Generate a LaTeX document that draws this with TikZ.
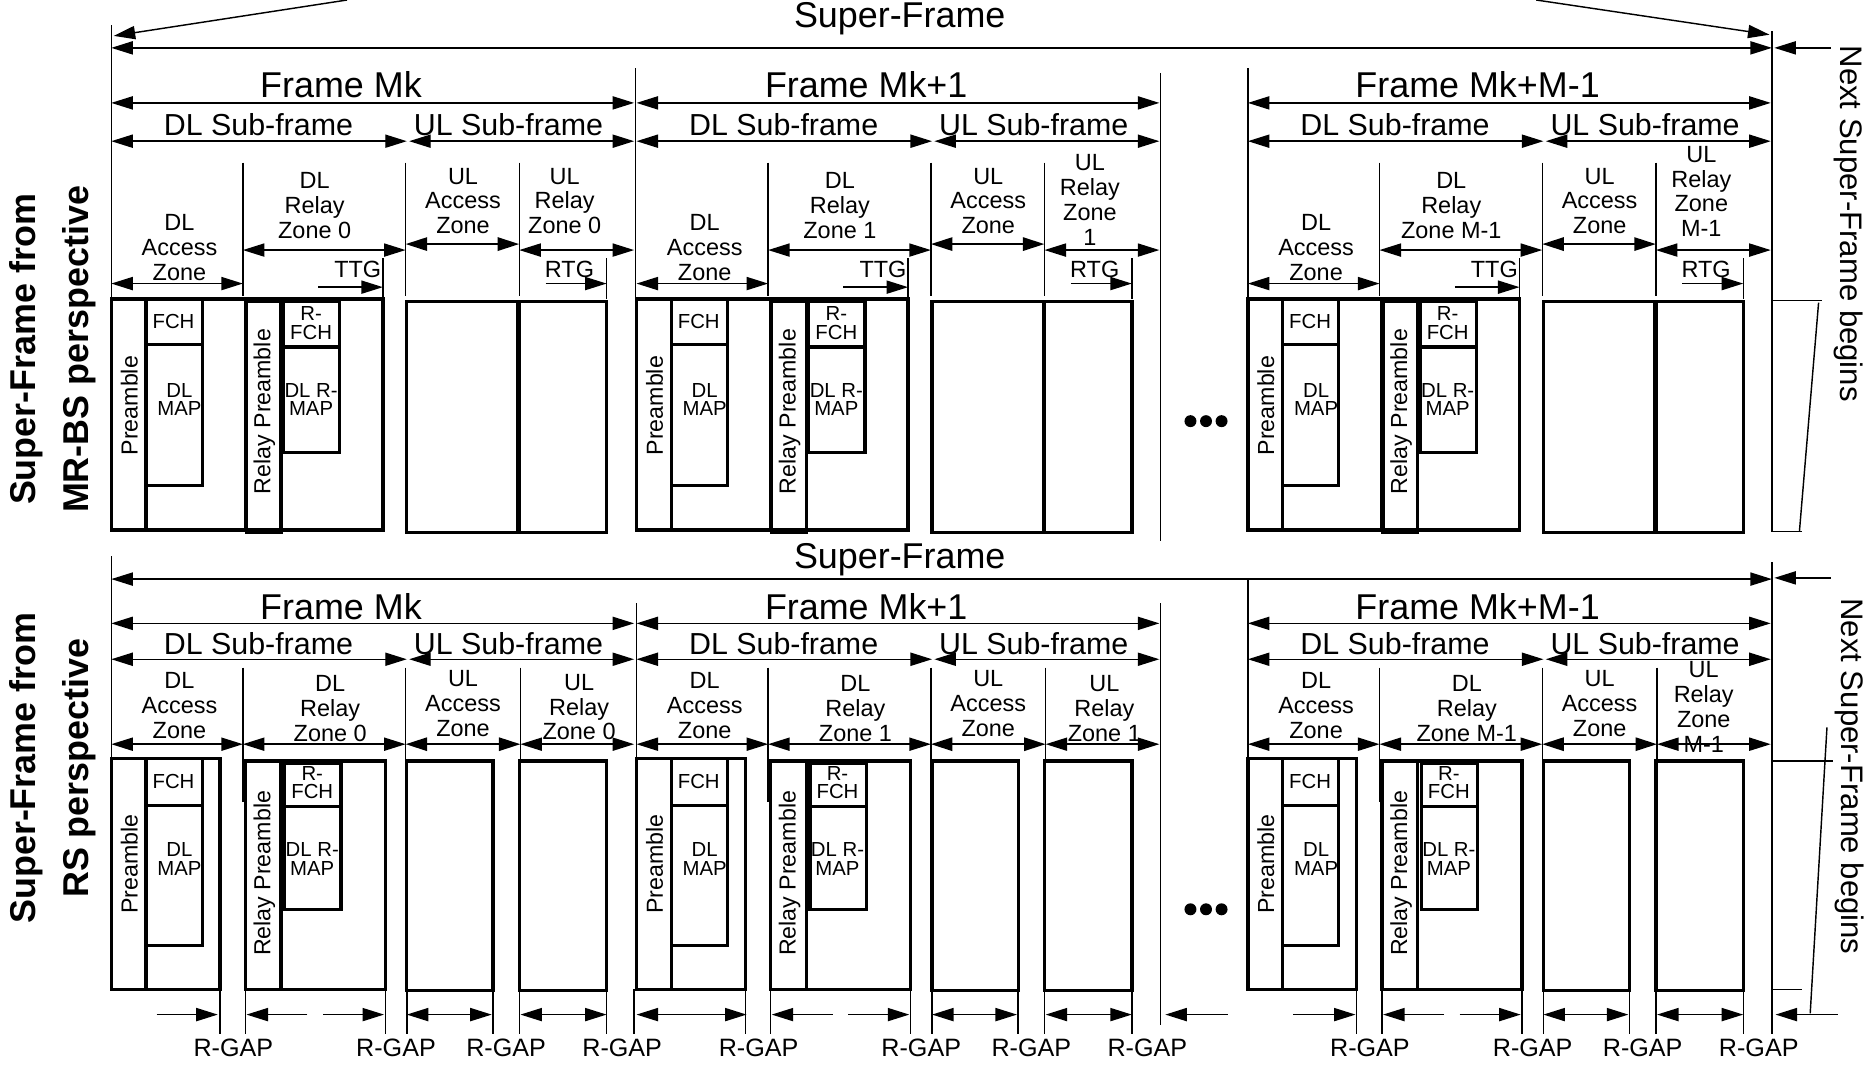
\documentclass[tikz,border=0pt]{standalone}
\usepackage{fontspec}
\setmainfont{Liberation Sans}
\usetikzlibrary{arrows.meta}

\begin{document}
\begin{tikzpicture}[x=.5pt,y=-.5pt,>={Triangle[length=9pt,width=5.5pt]},line width=.6pt,
  every node/.style={inner sep=0pt},
  blk/.style={line width=1.4pt},
  heavy/.style={line width=1pt},
  supf/.style={font=\fontsize{15}{17}\selectfont},
  subf/.style={font=\fontsize{12.7}{14}\selectfont},
  zone/.style={font=\fontsize{9.8}{10.4}\selectfont,align=center},
  gapl/.style={font=\fontsize{10.5}{12}\selectfont},
  cell/.style={font=\fontsize{8.5}{7.6}\selectfont,align=center},
  pre/.style={font=\fontsize{9.7}{11}\selectfont,rotate=90},
  sidelab/.style={font=\bfseries\fontsize{15}{22}\selectfont,rotate=90,align=center},
  nxt/.style={font=\fontsize{13}{15}\selectfont,rotate=-90}]
\useasboundingbox (0,0) rectangle (1568,891);

% super-frame, MR-BS view
\draw[->] (290,0)--(95,30);
\draw[->] (1284,0)--(1479,29);
\node[supf] (sfu) at (752,16) {Super-Frame};
\draw[<->] (93,40)--(1481,40);
\draw[->] (1530,40)--(1483,40);
\node[nxt] (nsu) at (1545,187) {Next Super-Frame begins};
\node[sidelab] (mrbs) at (44,292) {Super-Frame from\\MR-BS perspective};
\draw (93,21)--(93,250);
\draw (531,57)--(531,445);
\draw (970,61)--(970,452);
\draw (1043,57)--(1043,248);
\draw (1481,26)--(1481,445);
\draw (1481,251)--(1523,251);
\draw (1481,444)--(1506,444);
\draw (1520,253)--(1504,444);
\foreach \y in {352,760}
  \foreach \d in {995,1008,1021} \fill (\d,\y) circle (5);

\foreach \x/\nm/\z/\ul/\uly in {93/Mk/0/{UL\\Relay\\Zone 0}/168,532/Mk+1/1/{UL\\Relay\\Zone\\1}/167,1043/Mk+M-1/M-1/{UL\\Relay\\Zone\\M-1}/160}{
\begin{scope}[shift={(\x,0)}]
\draw[<->] (0,86)--(437,86);
\node[supf] (fu\x) at (192,71) {Frame \nm};
\draw[<->] (0,118)--(247,118);
\draw[<->] (249,118)--(437,118);
\node[subf] (dlu\x) at (123,104) {DL Sub-frame};
\node[subf] (ulu\x) at (332,104) {UL Sub-frame};
\draw (110,136)--(110,247);
\draw (246,136)--(246,247);
\draw (341,136)--(341,247);
\draw[<->] (0,237)--(110,237);
\draw[<->] (110,209)--(246,209);
\draw[<->,heavy] (246,204)--(341,204);
\draw[<->] (341,209)--(437,209);
\draw[->] (173,240)--(227,240);
\draw[->] (363,237)--(414,237);
\draw (227,216)--(227,250);
\draw (414,216)--(414,250);
\node[zone] (ttg\x) at (206,225) {TTG};
\node[zone] (rtg\x) at (383,225) {RTG};
\node[zone] (dau\x) at (57,207) {DL\\Access\\Zone};
\node[zone] (dru\x) at (170,172) {DL\\Relay\\Zone \z};
\node[zone] (uau\x) at (294,168) {UL\\Access\\Zone};
\node[zone] (uru\x) at (379,\uly) {\ul};
\draw[blk] (0,250) rectangle (112,443);
\draw[blk] (0,250) rectangle (29,443);
\draw[blk] (29,250) rectangle (76,288);
\draw[blk] (29,288) rectangle (76,406);
\draw[blk] (112,250) rectangle (227,443);
\draw[blk] (113,252) rectangle (142,445);
\draw[blk] (144,252) rectangle (191,290);
\draw[blk] (144,290) rectangle (191,378);
\draw[blk] (247,252) rectangle (340,445);
\draw[blk] (341,252) rectangle (414,445);
\node[pre] (pu\x) at (15,339) {Preamble};
\node[pre] (rpu\x) at (128,344) {Relay Preamble};
\node[cell] (fch\x) at (52,269) {FCH};
\node[cell] (map\x) at (57,334) {DL\\MAP};
\node[cell] (rfch\x) at (167,270) {R-\\FCH};
\node[cell] (rmap\x) at (167,334) {DL R-\\MAP};
\end{scope}}

% super-frame, RS view
\node[supf] (sfl) at (752,468) {Super-Frame};
\draw[<->] (93,484)--(1481,484);
\draw[->] (1530,483)--(1483,483);
\node[nxt] (nsl) at (1546,649) {Next Super-Frame begins};
\node[sidelab] (rs) at (44,642) {Super-Frame from\\RS perspective};
\draw (93,465)--(93,634);
\draw (532,504)--(532,634);
\draw (970,504)--(970,857);
\draw (1043,484)--(1043,634);
\draw (1481,470)--(1481,864);
\draw (1481,636)--(1532,636);
\draw (1481,827)--(1506,827);
\draw (1527,608)--(1513,847);
\draw (530,827)--(530,864);
\draw[->] (131,848)--(182,848);
\draw[<->] (532,848)--(624,848);
\draw[->] (1026,848)--(974,848);
\draw[->] (1081,848)--(1133,848);
\draw[->] (1536,848)--(1484,848);

\foreach \x/\nm/\z/\ul/\ulx/\uly in {93/Mk/0/{UL\\Relay\\Zone 0}/391/591,532/Mk+1/1/{UL\\Relay\\Zone 1}/391/592,1043/Mk+M-1/M-1/{UL\\Relay\\Zone\\M-1}/381/591}{
\begin{scope}[shift={(\x,0)}]
\draw[<->] (0,521)--(437,521);
\node[supf] (fl\x) at (192,507) {Frame \nm};
\draw[<->] (0,551)--(247,551);
\draw[<->] (249,551)--(437,551);
\node[subf] (dll\x) at (123,538) {DL Sub-frame};
\node[subf] (ull\x) at (332,538) {UL Sub-frame};
\draw (110,558)--(110,670);
\draw (246,558)--(246,668);
\draw (342,558)--(342,668);
\draw[<->] (0,622)--(110,622);
\draw[<->] (110,622)--(246,622);
\draw[<->,heavy] (246,622)--(342,622);
\draw[<->] (342,622)--(437,622);
\node[zone] (dal\x) at (57,590) {DL\\Access\\Zone};
\node[zone] (drl\x) at (183,592) {DL\\Relay\\Zone \z};
\node[zone] (ual\x) at (294,588) {UL\\Access\\Zone};
\node[zone] (url\x) at (\ulx,\uly) {\ul};
\draw[blk] (0,634) rectangle (91,827);
\draw[blk] (0,634) rectangle (29,827);
\draw[blk] (29,634) rectangle (76,673);
\draw[blk] (29,673) rectangle (76,790);
\draw[blk] (112,636) rectangle (229,827);
\draw[blk] (112,636) rectangle (142,827);
\draw[blk] (145,638) rectangle (192,674);
\draw[blk] (145,674) rectangle (192,760);
\draw[blk] (247,636) rectangle (319,828);
\draw[blk] (341,636) rectangle (414,828);
\node[pre] (pl\x) at (15,722) {Preamble};
\node[pre] (rpl\x) at (128,730) {Relay Preamble};
\node[cell] (fcl\x) at (52,653) {FCH};
\node[cell] (mal\x) at (57,718) {DL\\MAP};
\node[cell] (rfl\x) at (168,654) {R-\\FCH};
\node[cell] (rml\x) at (168,718) {DL R-\\MAP};
\foreach \v in {91,112,229,247,319,341,414} \draw (\v,827)--(\v,864);
\draw[->] (164,848)--(113,848);
\draw[->] (177,848)--(228,848);
\draw[<->] (247,848)--(318,848);
\draw[<->] (342,848)--(414,848);
\foreach \g in {102,238,330,427} \node[gapl] at (\g,876) {R-GAP};
\end{scope}}

\end{tikzpicture}
\end{document}
